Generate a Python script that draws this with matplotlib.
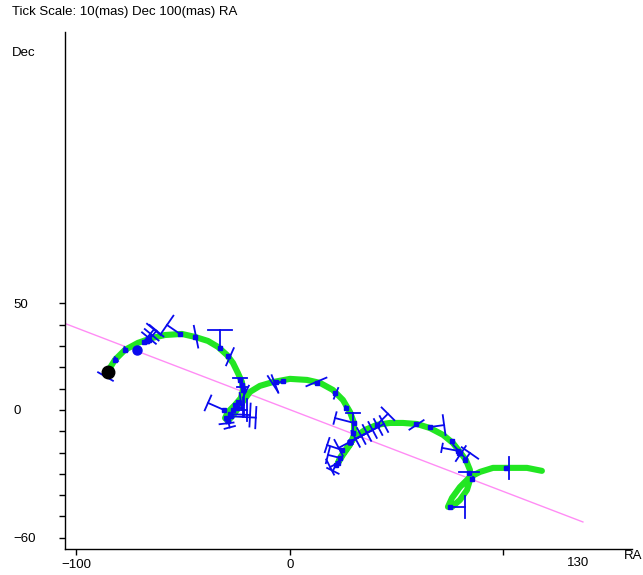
import matplotlib
matplotlib.use("Agg")
import matplotlib.pyplot as plt
import numpy as np

plt.rcParams["font.family"] = ["Liberation Sans", "DejaVu Sans"]

# model path of the star (RA offset, Dec offset)
path_ra = [-85.4, -82.0, -77.3, -71.2, -64.6, -58.5, -50.6, -44.5, -38.4, -33.7, -29.5, -26.7,
           -24.4, -22.5, -22.0, -23.0, -25.8, -29.0, -30.4, -29.0, -26.2, -22.5, -18.7, -14.1,
           -8.0, 0.0, 8.0, 14.1, 20.1, 24.8, 28.1, 30.0, 30.0, 28.1, 24.8, 22.5, 23.4, 26.7,
           30.4, 35.1, 40.7, 46.8, 52.9, 59.5, 65.6, 71.7, 76.3, 79.6, 82.4, 84.3, 84.3, 82.9,
           79.6, 75.9, 74.0, 75.9, 79.6, 84.3, 89.0, 95.1, 103.0, 111.0, 118.0]
path_dec = [18.0, 23.5, 28.2, 31.5, 33.8, 35.2, 35.7, 34.3, 32.4, 29.6, 25.8, 22.1,
            17.4, 13.1, 9.4, 5.6, 2.3, -0.9, -3.8, -5.2, -1.9, 3.3, 8.5, 11.3,
            13.1, 14.6, 14.1, 12.7, 9.4, 4.7, -0.9, -6.1, -11.7, -16.4, -21.1, -24.9, -22.5, -17.8,
            -12.7, -9.4, -7.0, -6.1, -6.1, -6.6, -8.5, -11.7, -15.5, -19.7, -23.5, -28.2, -32.9, -37.6,
            -42.3, -45.5, -45.5, -41.3, -36.2, -31.5, -29.1, -27.2, -27.2, -27.2, -28.6]

# observations: position, residual vector along scan, half length of scan-line bar
obs_ra = [-85.2, -81.8, -77.3, -67.0, -67.0, -66.0, -68.5, -51.5, -44.5, -32.8, -29.0, -23.4,
          -22.5, -22.0, -25.8, -26.7, -28.1, -24.4, -30.0, -30.9, -29.0, -3.3, -6.6, 12.6,
          21.1, 30.0, 29.5, 28.1, 28.1, 28.1, 28.1, 28.1, 28.1, 28.1, 23.4, 22.5, 24.4, 21.5,
          40.7, 59.0, 65.6, 78.7, 79.2, 79.6, 82.0, 83.8, 85.2, 101.0, 75.0, 75.9, 26.2,
          -27.5, -25.0]
obs_dec = [17.8, 23.5, 28.2, 32.6, 32.6, 33.0, 32.0, 35.7, 34.3, 29.1, 25.4, 14.0,
           11.5, 9.4, 2.3, 0.0, -1.9, 3.8, -3.8, 0.0, -5.2, 13.6, 13.1, 12.7,
           8.0, -6.1, -10.8, -15.0, -15.0, -15.0, -15.0, -15.0, -15.0, -15.0, -22.5, -24.9, -18.8, -25.8,
           -7.0, -6.6, -8.0, -19.2, -20.2, -20.2, -23.5, -29.6, -32.4, -27.2, -45.5, -14.6, 1.0,
           -3.0, 1.0]
res_ra = [-1.2, 0.5, 0.5, 0.96, 2.24, 3.5, 4.8, -6.1, 0.5, 0.0, 0.9, 0.0,
          0.0, 1.4, 4.2, 6.6, 9.4, 1.4, 0.3, -7.5, 0.8, -3.7, -1.4, -0.2,
          0.47, -8.9, 0.0, -5.3, 2.65, 5.3, 7.95, 10.6, 13.2, 15.9, -5.6, -3.7, -7.0, -1.4,
          5.2, 0.28, 6.6, -7.5, 0.37, 0.42, 2.3, 0.0, 0.3, 1.4, 7.0, 0.4, 0.3,
          11.5, 2.8]
res_dec = [-2.1, 0.4, 0.4, 1.16, 2.7, 4.2, 5.8, 4.2, 0.1, 8.5, -0.4, 0.8,
           -0.8, -0.7, 0.0, 0.0, -0.5, 0.2, -2.5, 3.3, -3.0, -1.4, -0.9, 0.47,
           -0.19, 2.3, 9.4, -2.8, 1.41, 2.8, 4.2, 5.6, 7.0, 8.4, 1.4, -1.9, 2.3, -2.8,
           5.2, -0.42, 0.9, 1.4, 0.33, -0.28, 3.3, 0.3, 0.0, 0.0, 0.0, -0.3, 0.2,
           -0.6, 0.0]
bar_half = [4.0, 1.2, 1.2, 4.2, 4.2, 4.2, 4.2, 5.3, 5.2, 5.6, 4.4, 3.3,
            2.5, 3.0, 5.0, 5.2, 5.4, 4.0, 3.3, 3.8, 2.5, 4.4, 4.4, 5.1,
            2.7, 2.8, 3.3, 4.2, 4.2, 4.2, 4.2, 4.2, 4.2, 4.2, 4.0, 4.0, 3.5, 3.0,
            4.2, 4.0, 4.7, 2.0, 4.7, 4.2, 4.7, 4.7, 0.8, 5.2, 5.2, 0.8, 0.8,
            5.0, 4.5]

# proper motion line
pm_ra = [-105.9, 137.2]
pm_dec = [40.8, -52.6]

start_ra, start_dec = -85.4, 18.0
ref_ra, ref_dec = -71.7, 28.2

y_ticks = list(range(-60, 51, 10))
y_labels = ["\u221260" if t == -60 else str(t) if t in (0, 50) else "" for t in y_ticks]
x_ticks = [-100, 0, 100]
x_labels = ["\u2212100", "0", ""]

fig = plt.figure(figsize=(6.43, 5.75), dpi=100)
ax = fig.add_axes([64.5 / 643, 26 / 575, 567.5 / 643, 517 / 575])

ax.plot(pm_ra, pm_dec, color="#ff8cf5", lw=1.0, zorder=1)
ax.plot(path_ra, path_dec, color="#22e622", lw=4.4, solid_capstyle="round",
        solid_joinstyle="round", zorder=2)

blue = "#0a0aee"
for x, y, dx, dy, h in zip(obs_ra, obs_dec, res_ra, res_dec, bar_half):
    ex, ey = x + dx, y + dy
    n = np.hypot(dx, dy)
    px, py = -dy / n, dx / n
    ax.plot([x, ex], [y, ey], color=blue, lw=1.3, zorder=3)
    ax.plot([ex - h * px, ex + h * px], [ey - h * py, ey + h * py], color=blue, lw=1.3, zorder=3)
    ax.plot(x, y, "s", color=blue, ms=3.3, zorder=3)

ax.plot(ref_ra, ref_dec, "o", color=blue, ms=6.5, zorder=4)
ax.plot(start_ra, start_dec, "o", color="black", ms=9, zorder=5)

ax.set_xlim(-105.6, 160.2)
ax.set_ylim(-65.3, 177.5)

for s in ("top", "right"):
    ax.spines[s].set_visible(False)
ax.spines["left"].set_linewidth(1.0)
ax.spines["bottom"].set_linewidth(1.0)

ax.set_yticks(y_ticks)
ax.set_yticklabels(y_labels, ha="left", fontsize=9.5)
ax.tick_params(axis="y", length=4, width=1, pad=33)
ax.set_xticks(x_ticks)
ax.set_xticklabels(x_labels, fontsize=9.5)
ax.tick_params(axis="x", length=4, width=1, pad=3)
ax.text(135, -69, "130", ha="center", va="top", fontsize=9.5, clip_on=False)

fig.text(12 / 643, 1 - 12.5 / 575, "Tick Scale: 10(mas) Dec 100(mas) RA", fontsize=9.5,
         ha="left", va="center")
fig.text(12 / 643, 1 - 53 / 575, "Dec", fontsize=9.5, ha="left", va="center")
fig.text(624 / 643, 1 - 556 / 575, "RA", fontsize=9.5, ha="left", va="center")

fig.savefig("out.png", dpi=100)
